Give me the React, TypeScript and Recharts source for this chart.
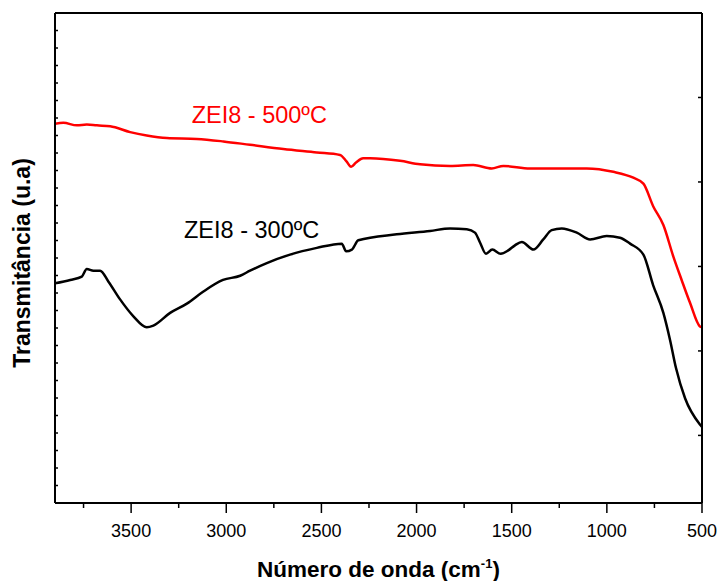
import React from 'react';
import { LineChart, Line, XAxis, YAxis, ReferenceDot } from 'recharts';

// wavenumber (cm-1) and transmittance (a.u.)
const black_w = [3900, 3820, 3759, 3733, 3698, 3663, 3619, 3558, 3488, 3418, 3383, 3295, 3207, 3122, 3017, 2927, 2875, 2787, 2665, 2524, 2393, 2370, 2340, 2306, 2104, 1929, 1824, 1736, 1693, 1666, 1635, 1602, 1558, 1518, 1483, 1447, 1386, 1334, 1290, 1237, 1158, 1088, 1001, 931, 878, 808, 757, 703, 668, 637, 589, 511, 500];
const black_v = [1.80, 1.84, 1.88, 1.97, 1.95, 1.95, 1.82, 1.61, 1.41, 1.28, 1.30, 1.45, 1.56, 1.70, 1.84, 1.89, 1.95, 2.04, 2.14, 2.22, 2.27, 2.18, 2.20, 2.31, 2.38, 2.42, 2.45, 2.44, 2.40, 2.28, 2.15, 2.20, 2.15, 2.19, 2.25, 2.29, 2.20, 2.32, 2.43, 2.45, 2.40, 2.32, 2.36, 2.34, 2.27, 2.14, 1.78, 1.45, 1.13, 0.80, 0.44, 0.13, 0.10];

const red_w = [3900, 3856, 3785, 3733, 3680, 3610, 3505, 3418, 3312, 3155, 3015, 2875, 2700, 2524, 2402, 2367, 2344, 2318, 2281, 2244, 2087, 1982, 1824, 1702, 1605, 1544, 1404, 1229, 1106, 966, 861, 808, 756, 703, 651, 607, 563, 511, 500];
const red_v = [3.69, 3.70, 3.67, 3.68, 3.67, 3.66, 3.59, 3.55, 3.52, 3.51, 3.48, 3.44, 3.39, 3.35, 3.32, 3.24, 3.18, 3.23, 3.28, 3.28, 3.25, 3.21, 3.19, 3.20, 3.16, 3.19, 3.16, 3.16, 3.16, 3.12, 3.05, 2.98, 2.71, 2.49, 2.12, 1.84, 1.57, 1.29, 1.28];

const xTicks = [3750, 3500, 3250, 3000, 2750, 2500, 2250, 2000, 1750, 1500, 1250, 1000, 750, 500];
const xLabels = [3500, 3000, 2500, 2000, 1500, 1000, 500];
const rightTicks = [0, 1, 2, 3, 4];
const Y_MIN = -0.8;
const Y_MAX = 5;
// small unlabeled ticks on the left edge, 28 steps
const leftTicks = Array.from({ length: 29 }, (_, i) => Y_MIN + (i * (Y_MAX - Y_MIN)) / 28);

const black = black_w.map((w, i) => ({ w, v: black_v[i] }));
const red = red_w.map((w, i) => ({ w, v: red_v[i] }));

const FONT = "'Liberation Sans', Arial, Helvetica, sans-serif";

const BottomTick = (props: any) => {
  const { x, y, payload } = props;
  const major = xLabels.includes(payload.value);
  return (
    <g>
      <line x1={x} x2={x} y1={y} y2={y + (major ? 10 : 5)} stroke="#000" strokeWidth={1.5} />
      {major && (
        <text x={x} y={y + 34} textAnchor="middle" fontSize={18} fill="#000" fontFamily={FONT}>
          {payload.value}
        </text>
      )}
    </g>
  );
};

const NoLabel = () => <g />;

const Tag = (text: string, color: string) => (p: any) => (
  <text x={p.cx} y={p.cy} fill={color} fontSize={23.5} fontFamily={FONT}>
    {text}
  </text>
);

export default function App() {
  return (
    <div>
      <style>{'body{margin:0}'}</style>
      <LineChart width={718} height={581} data={black} margin={{ top: 13, right: 16, left: 55, bottom: 0 }}>
        <XAxis
          xAxisId="b"
          dataKey="w"
          type="number"
          domain={[500, 3900]}
          reversed
          allowDataOverflow
          ticks={xTicks}
          interval={0}
          height={78}
          tickSize={0}
          tickMargin={0}
          tickLine={false}
          axisLine={{ stroke: '#000', strokeWidth: 2 }}
          tick={<BottomTick />}
          label={{
            content: (p: any) => (
              <text
                x={p.viewBox.x + p.viewBox.width / 2}
                y={p.viewBox.y + 74}
                textAnchor="middle"
                fontSize={22.5}
                fontWeight="bold"
                fontFamily={FONT}
                fill="#000"
              >
                Número de onda (cm
                <tspan dy={-9} fontSize={13}>-1</tspan>
                <tspan dy={9}>)</tspan>
              </text>
            ),
          }}
        />
        <XAxis
          xAxisId="t"
          orientation="top"
          mirror
          type="number"
          domain={[500, 3900]}
          reversed
          allowDataOverflow
          ticks={xTicks}
          interval={0}
          tickSize={3}
          tick={NoLabel}
          tickLine={{ stroke: '#000', strokeWidth: 1.5 }}
          axisLine={{ stroke: '#000', strokeWidth: 2 }}
        />
        <YAxis
          yAxisId="l"
          type="number"
          domain={[Y_MIN, Y_MAX]}
          allowDataOverflow
          mirror
          ticks={leftTicks}
          interval={0}
          tickSize={3}
          tick={NoLabel}
          tickLine={{ stroke: '#000', strokeWidth: 1.5 }}
          axisLine={{ stroke: '#000', strokeWidth: 2 }}
          label={{
            content: (p: any) => {
              const cx = 22;
              const cy = p.viewBox.y + p.viewBox.height / 2 + 5;
              return (
                <text
                  x={cx}
                  y={cy}
                  transform={`rotate(-90, ${cx}, ${cy})`}
                  textAnchor="middle"
                  dominantBaseline="central"
                  fontSize={23}
                  fontWeight="bold"
                  fontFamily={FONT}
                  fill="#000"
                >
                  Transmitância (u.a)
                </text>
              );
            },
          }}
        />
        <YAxis
          yAxisId="r"
          orientation="right"
          type="number"
          domain={[Y_MIN, Y_MAX]}
          allowDataOverflow
          mirror
          ticks={rightTicks}
          interval={0}
          tickSize={4}
          tick={NoLabel}
          tickLine={{ stroke: '#000', strokeWidth: 1.5 }}
          axisLine={{ stroke: '#000', strokeWidth: 2 }}
        />
        <Line
          xAxisId="b"
          yAxisId="l"
          data={red}
          dataKey="v"
          type="monotone"
          stroke="#ff0000"
          strokeWidth={2.5}
          dot={false}
          isAnimationActive={false}
        />
        <Line
          xAxisId="b"
          yAxisId="l"
          data={black}
          dataKey="v"
          type="monotone"
          stroke="#000"
          strokeWidth={2.5}
          dot={false}
          isAnimationActive={false}
        />
        <ReferenceDot xAxisId="b" yAxisId="l" x={3182} y={3.7} r={0} shape={Tag('ZEI8 - 500ºC', '#ff0000')} />
        <ReferenceDot xAxisId="b" yAxisId="l" x={3222} y={2.34} r={0} shape={Tag('ZEI8 - 300ºC', '#000')} />
      </LineChart>
    </div>
  );
}
